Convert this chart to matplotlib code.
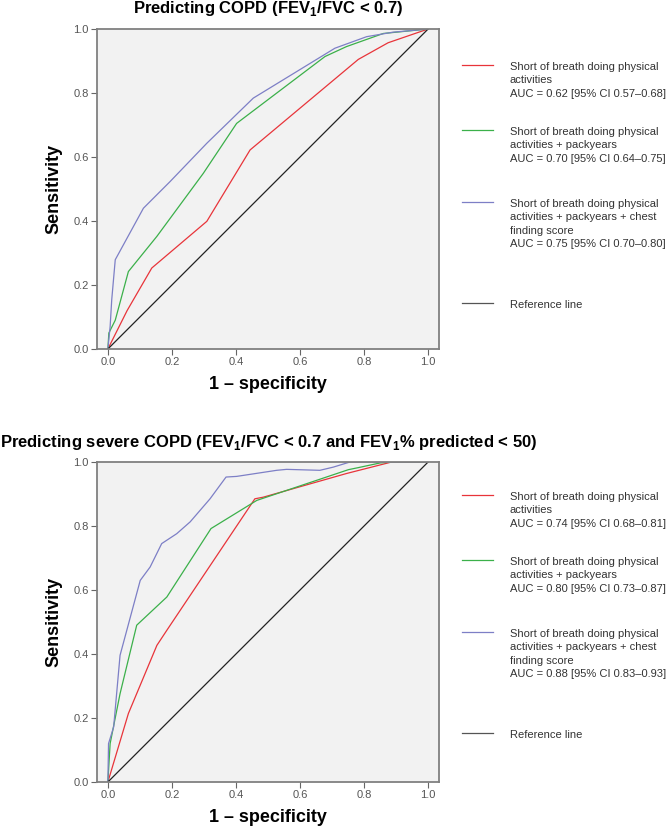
import numpy as np
import matplotlib
matplotlib.use('Agg')
import matplotlib.pyplot as plt
from matplotlib.lines import Line2D

plt.rcParams['font.family'] = ['Liberation Sans', 'DejaVu Sans']
plt.rcParams['mathtext.fontset'] = 'custom'
plt.rcParams['mathtext.rm'] = 'Liberation Sans'
plt.rcParams['mathtext.bf'] = 'Liberation Sans:bold'

# ---- data ----
# top panel: COPD
top_red_x = [0, 0.06, 0.137, 0.309, 0.444, 0.782, 0.875, 1.0]
top_red_y = [0, 0.12, 0.253, 0.399, 0.622, 0.905, 0.957, 1.0]
top_green_x = [0, 0.003, 0.023, 0.064, 0.153, 0.298, 0.402, 0.678, 0.745, 0.86, 1.0]
top_green_y = [0, 0.05, 0.09, 0.242, 0.352, 0.549, 0.705, 0.914, 0.945, 0.986, 1.0]
top_blue_x = [0, 0.007, 0.012, 0.023, 0.111, 0.194, 0.309, 0.454, 0.709, 0.808, 0.89, 1.0]
top_blue_y = [0, 0.07, 0.154, 0.279, 0.44, 0.523, 0.643, 0.784, 0.94, 0.976, 0.99, 1.0]

# bottom panel: severe COPD
bot_red_x = [0, 0.064, 0.153, 0.184, 0.459, 0.485, 0.745, 0.886, 1.0]
bot_red_y = [0, 0.214, 0.427, 0.474, 0.885, 0.89, 0.964, 1.0, 1.0]
bot_green_x = [0, 0.007, 0.038, 0.09, 0.184, 0.322, 0.465, 0.751, 0.78, 0.85, 0.886, 1.0]
bot_green_y = [0, 0.12, 0.276, 0.49, 0.578, 0.792, 0.88, 0.976, 0.982, 0.997, 1.0, 1.0]
bot_blue_x = [0, 0.002, 0.018, 0.038, 0.101, 0.132, 0.168, 0.215, 0.257, 0.319, 0.369,
              0.402, 0.527, 0.558, 0.662, 0.704, 0.756, 1.0]
bot_blue_y = [0, 0.12, 0.172, 0.396, 0.63, 0.672, 0.745, 0.776, 0.813, 0.885, 0.953,
              0.955, 0.974, 0.977, 0.974, 0.984, 1.0, 1.0]

ref_x = [0, 1]
ref_y = [0, 1]

ticks = [0.0, 0.2, 0.4, 0.6, 0.8, 1.0]

top_labels = ['Short of breath doing physical\nactivities\nAUC = 0.62 [95% CI 0.57\u20130.68]',
              'Short of breath doing physical\nactivities + packyears\nAUC = 0.70 [95% CI 0.64\u20130.75]',
              'Short of breath doing physical\nactivities + packyears + chest\nfinding score\nAUC = 0.75 [95% CI 0.70\u20130.80]',
              'Reference line']
bot_labels = ['Short of breath doing physical\nactivities\nAUC = 0.74 [95% CI 0.68\u20130.81]',
              'Short of breath doing physical\nactivities + packyears\nAUC = 0.80 [95% CI 0.73\u20130.87]',
              'Short of breath doing physical\nactivities + packyears + chest\nfinding score\nAUC = 0.88 [95% CI 0.83\u20130.93]',
              'Reference line']

colors = ['#e8343a', '#3bb04a', '#7d7fc6', '#222222']
legend_colors = ['#e8343a', '#3bb04a', '#7d7fc6', '#555555']

W, H = 667, 826
fig = plt.figure(figsize=(W / 100, H / 100), dpi=100)


def panel(top_px, curves, labels, legend_y):
    ax = fig.add_axes([97 / W, 1 - (top_px + 320) / H, 342 / W, 320 / H])
    ax.set_facecolor('#f2f2f2')
    for (x, y), c in zip(curves, colors):
        ax.plot(x, y, color=c, lw=0.9)
    ax.set_xlim(-0.034, 1.034)
    ax.set_ylim(0, 1)
    ax.set_xticks(ticks)
    ax.set_yticks(ticks)
    ax.set_xticklabels(['%.1f' % t for t in ticks])
    ax.set_yticklabels(['%.1f' % t for t in ticks])
    ax.tick_params(direction='out', length=4, width=0.8, colors='#666666',
                   labelsize=8, labelcolor='#555555', pad=2)
    for s in ax.spines.values():
        s.set_color('#808080')
        s.set_linewidth(1.3)
    ax.set_xlabel('1 \u2013 specificity', fontsize=13, fontweight='bold', labelpad=6)
    ax.set_ylabel('Sensitivity', fontsize=13, fontweight='bold', labelpad=8)
    # legend drawn by hand to the right
    for ly, lab, c in zip(legend_y, labels, legend_colors):
        fig.add_artist(Line2D([462 / W, 493 / W], [1 - ly / H, 1 - ly / H],
                              color=c, lw=0.9))
        fig.text(510 / W, 1 - (ly - 3) / H, lab, fontsize=8, color='#333333',
                 va='top', ha='left', linespacing=1.42)
    return ax


panel(29, [(top_red_x, top_red_y), (top_green_x, top_green_y),
           (top_blue_x, top_blue_y), (ref_x, ref_y)], top_labels, [65, 130, 202, 303])
panel(462, [(bot_red_x, bot_red_y), (bot_green_x, bot_green_y),
            (bot_blue_x, bot_blue_y), (ref_x, ref_y)], bot_labels, [495, 560, 632, 733])

fig.text(268 / W, 1 - 9 / H, r'Predicting COPD (FEV$_{\mathbf{1}}$/FVC < 0.7)',
         fontsize=12, fontweight='bold', ha='center', va='center')
fig.text(0 / W, 1 - 442 / H,
         r'Predicting severe COPD (FEV$_{\mathbf{1}}$/FVC < 0.7 and FEV$_{\mathbf{1}}$% predicted < 50)',
         fontsize=12, fontweight='bold', ha='left', va='center')

fig.savefig('out.png', dpi=100)
